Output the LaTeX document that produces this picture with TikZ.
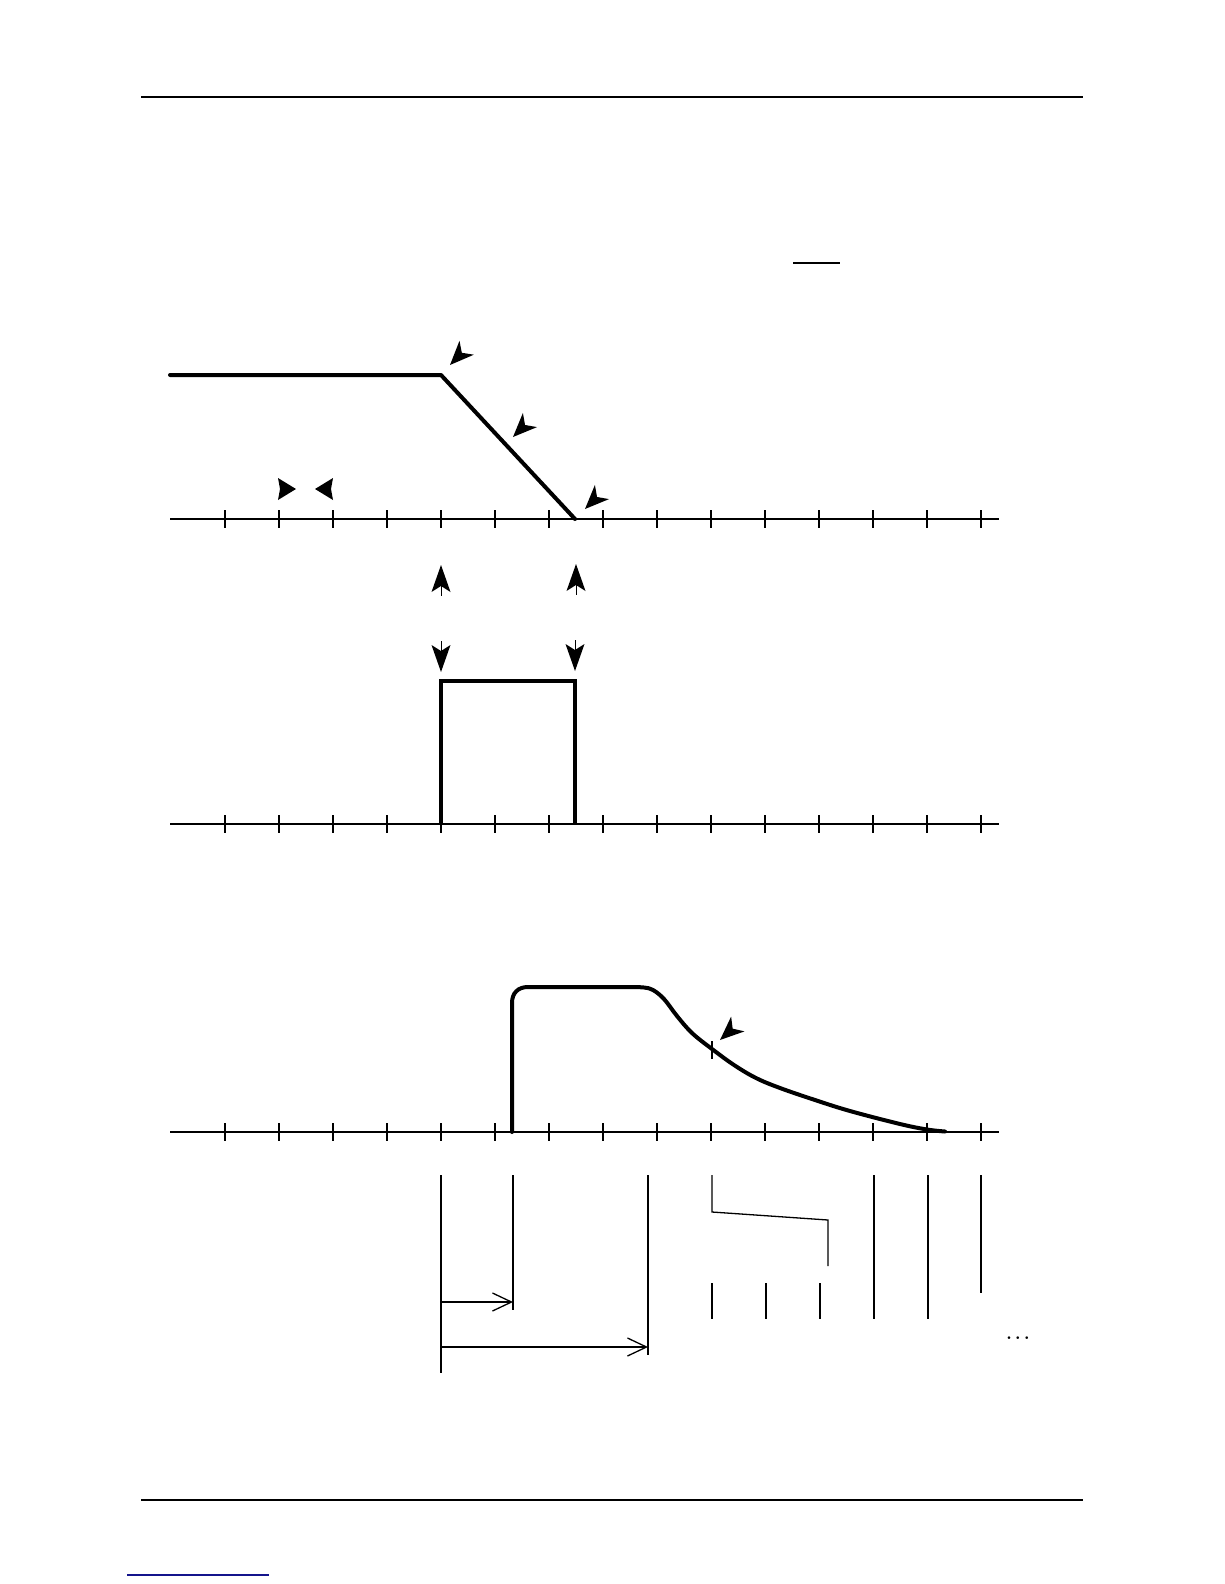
\documentclass[tikz,border=0pt]{standalone}
\usetikzlibrary{arrows.meta}
\begin{document}
\begin{tikzpicture}[x=1pt,y=-1pt,
  rule/.style={line width=1.3pt},
  linkline/.style={line width=1.3pt, draw={rgb,255:red,20;green,20;blue,140}},
  axisln/.style={line width=2pt},
  tickln/.style={line width=1.8pt},
  sig/.style={line width=4pt, line join=round, line cap=round},
  thinln/.style={line width=1.3pt},
  barb/.style={thinln, -{Straight Barb[length=19pt,width=18pt]}},
  diaghead/.pic={\fill (0,0) -- (-24,10) -- (-17,0) -- (-24,-10) -- cycle;},
  verthead/.pic={\fill (0,0) -- (-27,9.5) -- (-21,0) -- (-27,-9.5) -- cycle;
                 \draw[line width=1pt] (-19,0) -- (-31,0);},
  smallhead/.pic={\fill (0,0) -- (-18,11) -- (-16,0) -- (-18,-11) -- cycle;}
]
\useasboundingbox (0,0) rectangle (1224,1584);

% page rules
\draw[rule] (141,97) -- (1083,97);
\draw[rule] (141,1500) -- (1083,1500);
\draw[linkline] (127,1575) -- (269,1575);
\draw[rule] (793,263) -- (840,263);

% three time axes with ticks
\foreach \ay in {519,824,1132} {
  \draw[axisln] (170,\ay) -- (999,\ay);
  \foreach \x in {225,279,...,981}
    \draw[tickln] (\x,\ay-9) -- (\x,\ay+9);
}

% signal 1: level then ramp
\coordinate (s1a) at (170,375);
\coordinate (s1b) at (441,375);
\coordinate (s1c) at (575,519);
\draw[sig] (s1a) -- (s1b) -- (s1c);
\pic[rotate=-134] at (450,365) {diaghead};
\pic[rotate=-135] at (513,437) {diaghead};
\pic[rotate=-135] at (585,509) {diaghead};
\pic at (296,489) {smallhead};
\pic[rotate=180] at (315,489) {smallhead};

% vertical arrowheads between signal 1 and pulse
\pic[rotate=90] at (441,565) {verthead};
\pic[rotate=90] at (576,564) {verthead};
\pic[rotate=-90] at (441,672) {verthead};
\pic[rotate=-90] at (575,671) {verthead};

% signal 2: rectangular pulse
\coordinate (p1) at (441,824);
\coordinate (p2) at (441,681);
\coordinate (p3) at (575,681);
\coordinate (p4) at (575,824);
\draw[sig, line cap=butt, line join=miter] (p1) -- (p2) -- (p3) -- (p4);

% signal 3: response
\draw[sig] (512,1132) -- (512,1003) .. controls (512,993) and (518,987) .. (528,987)
  -- (630,987) -- plot[smooth, tension=0.6] coordinates {(630,987) (644,987.5) (653,990)
  (664,999) (677,1016) (692,1033) (712,1049) (734,1065) (756,1078) (780,1088)
  (815,1100) (850,1111) (900,1124) (927,1129.5) (945,1131.5)};
\draw[thinln] (712,1041) -- (712,1059);
\pic[rotate=-138] at (720,1040) {diaghead};

% lower measurement lines
\coordinate (r0t) at (441,1175); \coordinate (r0b) at (441,1373);
\coordinate (r1t) at (513,1175); \coordinate (r1b) at (513,1310);
\coordinate (r2t) at (648,1175); \coordinate (r2b) at (648,1355);
\draw[thinln] (r0t) -- (r0b);
\draw[thinln] (r1t) -- (r1b);
\draw[thinln] (r2t) -- (r2b);
\coordinate (a1s) at (441,1302); \coordinate (a1e) at (513,1302);
\coordinate (a2s) at (441,1347); \coordinate (a2e) at (648,1347);
\draw[barb] (a1s) -- (a1e);
\draw[barb] (a2s) -- (a2e);

\draw[thinln] (712,1175) -- (712,1212) -- (828,1220) -- (828,1266);
\foreach \x in {712,766,820}
  \draw[thinln] (\x,1283) -- (\x,1319);
\foreach \x in {874,928}
  \draw[thinln] (\x,1175) -- (\x,1319);
\draw[thinln] (981,1175) -- (981,1293);

\node[anchor=base, inner sep=0pt, font=\fontsize{19}{23}\selectfont\boldmath] (dots) at (1018,1339) {$\ldots$};
\end{tikzpicture}
\end{document}
